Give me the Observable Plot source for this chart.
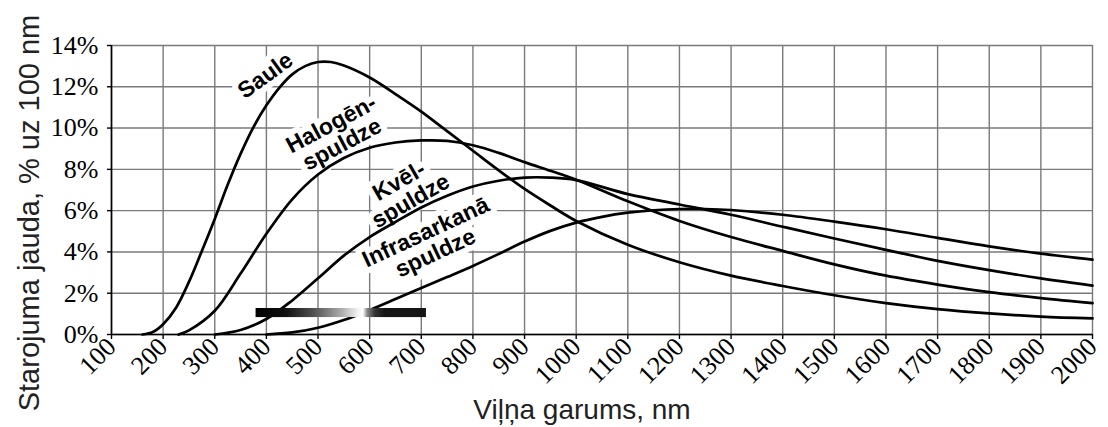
<!DOCTYPE html>
<html>
<head>
<meta charset="utf-8">
<script src="https://cdn.jsdelivr.net/npm/d3@7"></script>
<script src="https://cdn.jsdelivr.net/npm/@observablehq/plot@0.6"></script>
<style>
  html, body { margin: 0; padding: 0; background: #fff; }
</style>
</head>
<body>
<div id="chart"></div>
<script>
// ---- data ----
const xTicks = [100,200,300,400,500,600,700,800,900,1000,1100,1200,1300,1400,1500,1600,1700,1800,1900,2000];
const yTicks = [0,2,4,6,8,10,12,14];

const sauleNm  = [160,180,200,225,250,275,300,325,350,375,400,425,450,475,500,525,550,600,650,700,750,800,850,900,950,1000,1100,1200,1300,1400,1500,1600,1700,1800,1900,2000];
const saulePct = [0,0.12,0.5,1.3,2.55,4.05,5.6,7.25,8.75,10.05,11.1,11.95,12.6,13.0,13.2,13.2,13.03,12.45,11.65,10.8,9.85,8.9,7.95,7.05,6.25,5.5,4.35,3.5,2.85,2.35,1.9,1.52,1.23,1.02,0.87,0.78];

const halogenNm  = [230,250,300,350,400,450,500,550,600,650,700,750,800,850,900,950,1000,1100,1200,1300,1400,1500,1600,1700,1800,1900,2000];
const halogenPct = [0,0.2,1.15,2.95,4.88,6.55,7.75,8.55,9.05,9.3,9.4,9.38,9.17,8.8,8.35,7.93,7.5,6.45,5.5,4.72,4.05,3.4,2.85,2.42,2.05,1.76,1.52];

const kvelNm  = [300,350,400,450,500,550,600,650,700,750,800,850,900,950,1000,1100,1200,1300,1400,1500,1600,1700,1800,1900,2000];
const kvelPct = [0,0.22,0.75,1.65,2.72,3.82,4.72,5.45,6.15,6.72,7.17,7.45,7.6,7.6,7.48,6.8,6.3,5.8,5.22,4.65,4.1,3.57,3.12,2.72,2.37];

const infraNm  = [400,450,500,550,600,650,700,750,800,850,900,950,1000,1050,1100,1150,1200,1250,1300,1400,1500,1600,1700,1800,1900,2000];
const infraPct = [0,0.1,0.33,0.7,1.18,1.72,2.25,2.78,3.32,3.9,4.5,5.02,5.42,5.7,5.9,6.02,6.08,6.08,6.03,5.8,5.47,5.1,4.68,4.27,3.92,3.63];

const seriesNames = ["Saule", "Halogēnspuldze", "Kvēlspuldze", "Infrasarkanā spuldze"];

const labelText  = ["Saule", "Halogēn-\nspuldze", "Kvēl-\nspuldze", "Infrasarkanā\nspuldze"];
const labelNm    = [398, 536, 668, 718];
const labelPct   = [12.55, 9.7, 6.95, 4.45];
const labelAngle = [-36, -28, -30, -25];

// visible-light band
const bandNm  = [380, 710];
const bandPct = [0.82, 1.26];

const xTitle = "Viļņa garums, nm";
const yTitle = "Starojuma jauda, % uz 100 nm";

// ---- build tables ----
const series = [
  [sauleNm, saulePct], [halogenNm, halogenPct], [kvelNm, kvelPct], [infraNm, infraPct]
].flatMap(([xs, ys], i) => xs.map((x, j) => ({name: seriesNames[i], nm: x, pct: ys[j]})));

const labels = labelText.map((t, i) => ({text: t, nm: labelNm[i], pct: labelPct[i], angle: labelAngle[i]}));
const band = [{x1: bandNm[0], x2: bandNm[1], y1: bandPct[0], y2: bandPct[1]}];

const gridStyle = {stroke: "#7a7a7a", strokeOpacity: 1, strokeWidth: 1.4};
const labelFont = {fontFamily: "Liberation Sans, Arial, sans-serif", fontWeight: "bold", fontSize: 23, lineHeight: 1.0};
const tickFont = "Liberation Serif, Times New Roman, serif";

const chart = Plot.plot({
  width: 1108,
  height: 427,
  marginLeft: 111,
  marginRight: 16,
  marginTop: 45,
  marginBottom: 93,
  style: {background: "white", color: "black", fontFamily: tickFont, fontSize: "25px"},
  x: {type: "linear", domain: [100, 2000]},
  y: {type: "linear", domain: [0, 14]},
  marks: [
    Plot.gridX(xTicks, gridStyle),
    Plot.gridY(yTicks, gridStyle),
    // white backgrounds behind the curve labels
    Plot.text(labels, {x: "nm", y: "pct", text: "text", rotate: "angle", ...labelFont,
      fill: "white", stroke: "white", strokeWidth: 12, strokeLinejoin: "round"}),
    Plot.line(series, {x: "nm", y: "pct", z: "name", curve: "catmull-rom", stroke: "black", strokeWidth: 2.7}),
    Plot.rect(band, {x1: "x1", x2: "x2", y1: "y1", y2: "y2", fill: "url(#spectrum)"}),
    Plot.text(labels, {x: "nm", y: "pct", text: "text", rotate: "angle", ...labelFont, fill: "black"}),
    Plot.ruleX([100], {stroke: "black", strokeWidth: 1.6}),
    Plot.ruleY([0], {stroke: "black", strokeWidth: 1.6}),
    Plot.axisY(yTicks, {tickSize: 4, tickPadding: 9, tickFormat: d => d + "%", label: null,
      fontFamily: tickFont, fontSize: 26, strokeWidth: 1.4}),
    Plot.axisX(xTicks, {tickSize: 5, tickPadding: 3, tickRotate: -45, tickFormat: d => String(d), label: null,
      fontFamily: tickFont, fontSize: 26, strokeWidth: 1.4}),
    Plot.text([xTitle], {frameAnchor: "bottom", text: d => d, dx: -20, dy: 76, lineAnchor: "middle", textAnchor: "middle",
      fontFamily: "Liberation Sans, Arial, sans-serif", fontSize: 28, fill: "#222"}),
    Plot.text([yTitle], {frameAnchor: "left", text: d => d, dx: -82, dy: 23, rotate: -90, lineAnchor: "middle", textAnchor: "middle",
      fontFamily: "Liberation Sans, Arial, sans-serif", fontSize: 29, fill: "#222"})
  ]
});

// grayscale "spectrum" gradient for the visible-light band
const ns = "http://www.w3.org/2000/svg";
const defs = document.createElementNS(ns, "defs");
defs.innerHTML = `<linearGradient id="spectrum" x1="0" x2="1" y1="0" y2="0">
  <stop offset="0" stop-color="#000"/>
  <stop offset="0.18" stop-color="#111"/>
  <stop offset="0.35" stop-color="#555"/>
  <stop offset="0.5" stop-color="#aaa"/>
  <stop offset="0.6" stop-color="#f2f2f2"/>
  <stop offset="0.63" stop-color="#fff"/>
  <stop offset="0.655" stop-color="#888"/>
  <stop offset="0.7" stop-color="#333"/>
  <stop offset="0.76" stop-color="#151515"/>
  <stop offset="1" stop-color="#151515"/>
</linearGradient>`;
chart.insertBefore(defs, chart.firstChild);

document.getElementById("chart").appendChild(chart);
</script>
</body>
</html>
